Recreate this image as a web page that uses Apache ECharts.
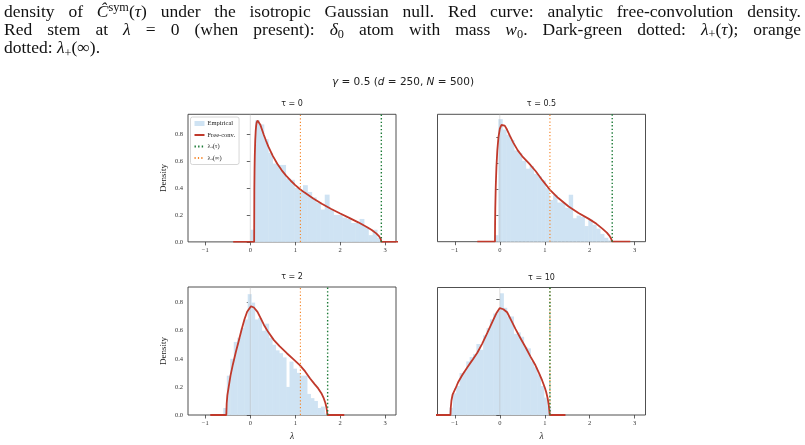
<!DOCTYPE html>
<html><head><meta charset="utf-8">
<script src="https://cdn.jsdelivr.net/npm/echarts@6/dist/echarts.min.js"></script>
<style>
html,body{margin:0;padding:0;background:#fff;width:805px;height:445px;overflow:hidden;}
#chart{position:absolute;left:0;top:0;width:805px;height:445px;}
#cap{position:absolute;left:4px;top:1.5px;width:797px;font-family:'Liberation Serif','Times New Roman',serif;font-size:17.5px;line-height:18.3px;color:#111;z-index:2;}
#cap .j{text-align:justify;text-align-last:justify;}
#cap sub,#cap sup{font-size:70%;line-height:0;position:relative;vertical-align:baseline;}
#cap sub{top:0.28em;}
#cap sup{top:-0.45em;}
</style>
</head><body>
<div id="chart"></div>
<div id="cap">
<div class="j">density of <i>Ĉ</i><sup>sym</sup>(<i>τ</i>) under the isotropic Gaussian null. Red curve: analytic free-convolution density.</div>
<div class="j">Red stem at <i>λ</i> = 0 (when present): <i>δ</i><sub>0</sub> atom with mass <i>w</i><sub>0</sub>. Dark-green dotted: <i>λ</i><sub>+</sub>(<i>τ</i>); orange</div>
<div>dotted: <i>λ</i><sub>+</sub>(∞).</div>
</div>
<script>
// ---------------- data ----------------
const suptitle = 'γ = 0.5 (d = 250, N = 500)';
const panelTitles = ['τ = 0', 'τ = 0.5', 'τ = 2', 'τ = 10'];
const xTicks = [-1, 0, 1, 2, 3];
const yTicksMain = [0, 0.2, 0.4, 0.6, 0.8];
const yTicksFine = [0, 0.1, 0.2, 0.3, 0.4, 0.5, 0.6, 0.7, 0.8];
const xRange = [-1.385, 3.24];
const yMax = [0.945, 0.977, 0.911, 0.88];
const lamPlusTau = [2.914, 2.50, 1.72, 1.115];
const lamPlusInf = 1.115;
const legendNames = ['Empirical', 'Free-conv.', 'λ₊(τ)', 'λ₊(∞)'];

// histogram bins (start, width, heights)
const histTau0Start = 0.01, histTau0Width = 0.0968;
const histTau0 = [0.09,0.90,0.87,0.76,0.66,0.58,0.57,0.57,0.47,0.46,0.40,0.38,0.42,0.37,0.33,0.29,0.24,0.35,0.24,0.20,0.20,0.18,0.17,0.14,0.14,0.17,0.11,0.05,0.09,0.03];
const histTau05Start = -0.12, histTau05Width = 0.087;
const histTau05 = [0.05,0.94,0.86,0.82,0.78,0.70,0.68,0.62,0.56,0.58,0.52,0.50,0.47,0.41,0.32,0.36,0.30,0.30,0.26,0.36,0.18,0.20,0.19,0.12,0.17,0.13,0.10,0.06,0.03,0.01];
const histTau2Start = -0.6, histTau2Width = 0.0775;
const histTau2 = [0.05,0.28,0.40,0.52,0.55,0.62,0.68,0.86,0.80,0.68,0.69,0.60,0.65,0.55,0.50,0.46,0.44,0.41,0.20,0.38,0.33,0.30,0.28,0.28,0.15,0.12,0.10,0.05,0.06,0.01];
const histTau10Start = -1.12, histTau10Width = 0.075;
const histTau10 = [0.05,0.15,0.20,0.29,0.30,0.37,0.40,0.42,0.49,0.45,0.55,0.60,0.66,0.70,0.72,0.84,0.74,0.68,0.68,0.56,0.57,0.54,0.47,0.46,0.37,0.33,0.28,0.20,0.12,0.06];

// analytic curves [lambda, density]
const curveTau0 = [[-0.38,0],[0.086,0],[0.09,0.385],[0.095,0.54],[0.10,0.636],[0.11,0.754],[0.12,0.82],[0.13,0.859],[0.14,0.882],[0.15,0.894],[0.16,0.899],[0.17,0.899],[0.18,0.897],[0.2,0.886],[0.22,0.87],[0.25,0.842],[0.3,0.794],[0.35,0.749],[0.4,0.707],[0.5,0.637],[0.6,0.579],[0.7,0.53],[0.8,0.489],[0.9,0.453],[1.0,0.421],[1.1,0.392],[1.2,0.367],[1.4,0.321],[1.6,0.281],[1.8,0.244],[2.0,0.21],[2.2,0.178],[2.4,0.145],[2.6,0.109],[2.7,0.088],[2.8,0.063],[2.86,0.043],[2.9,0.022],[2.914,0],[3.33,0]];
const curveTau05 = [[-0.5,0],[-0.107,0],[-0.105,0.12],[-0.1,0.26],[-0.09,0.42],[-0.075,0.57],[-0.055,0.7],[-0.03,0.8],[0,0.865],[0.035,0.895],[0.07,0.9],[0.11,0.89],[0.16,0.86],[0.22,0.815],[0.3,0.76],[0.4,0.70],[0.5,0.655],[0.65,0.6],[0.8,0.54],[0.95,0.47],[1.11,0.40],[1.3,0.335],[1.53,0.27],[1.75,0.22],[1.98,0.175],[2.15,0.137],[2.28,0.10],[2.38,0.07],[2.44,0.045],[2.48,0.02],[2.50,0],[2.9,0]];
const curveTau2 = [[-0.89,0],[-0.533,0],[-0.525,0.08],[-0.51,0.14],[-0.48,0.2],[-0.44,0.28],[-0.387,0.36],[-0.32,0.45],[-0.263,0.52],[-0.2,0.6],[-0.131,0.68],[-0.07,0.735],[0.015,0.774],[0.08,0.765],[0.16,0.734],[0.23,0.69],[0.307,0.639],[0.4,0.59],[0.526,0.533],[0.65,0.49],[0.818,0.438],[0.95,0.4],[1.1,0.355],[1.22,0.31],[1.33,0.26],[1.43,0.22],[1.51,0.189],[1.58,0.155],[1.635,0.118],[1.67,0.085],[1.69,0.059],[1.705,0.03],[1.715,0],[2.09,0]];
const curveTau10 = [[-1.435,0],[-1.096,0],[-1.09,0.05],[-1.075,0.1],[-1.05,0.14],[-0.985,0.183],[-0.92,0.23],[-0.837,0.274],[-0.72,0.33],[-0.615,0.377],[-0.5,0.43],[-0.393,0.491],[-0.28,0.565],[-0.17,0.64],[-0.08,0.70],[0,0.738],[0.08,0.73],[0.163,0.709],[0.26,0.65],[0.348,0.594],[0.46,0.53],[0.57,0.469],[0.68,0.405],[0.793,0.343],[0.87,0.29],[0.94,0.24],[1.0,0.19],[1.03,0.16],[1.065,0.115],[1.089,0.069],[1.10,0.035],[1.11,0],[1.46,0]];

// ---------------- layout / style ----------------
const grids = [
  {left:188, top:114.3, width:208, height:127.6},
  {left:437.5, top:114.3, width:208, height:127.4},
  {left:188, top:287, width:208, height:128},
  {left:437.5, top:287.5, width:208, height:127.5}
];
const HIST = '#cfe3f3', RED = '#c0392b', GREEN = '#1b7a36', ORANGE = '#f5862a', SPINE = '#3c3c3c';
const SERIF = "'Liberation Serif','Times New Roman',serif";
const SANS = "'DejaVu Sans',sans-serif";

const hists = [[histTau0Start,histTau0Width,histTau0],[histTau05Start,histTau05Width,histTau05],[histTau2Start,histTau2Width,histTau2],[histTau10Start,histTau10Width,histTau10]];
const curves = [curveTau0, curveTau05, curveTau2, curveTau10];

const xAxes = [], yAxes = [], series = [], graphics = [];
for (let i = 0; i < 4; i++) {
  const bottomRow = i >= 2, leftCol = i % 2 === 0;
  xAxes.push({type:'value', gridIndex:i, min:xRange[0], max:xRange[1],
    axisLine:{show:false}, splitLine:{show:false},
    axisTick:{show:true, customValues:xTicks, length:3.5, lineStyle:{color:SPINE, width:0.8}},
    axisLabel:{customValues:xTicks, formatter:v=>String(v).replace('-', '\u2212'), fontFamily:SERIF, fontSize:6.5, color:'#333', margin:5},
    name: bottomRow ? 'λ' : '', nameLocation:'middle', nameGap:16.5,
    nameTextStyle:{fontFamily:SERIF, fontStyle:'italic', fontSize:9.5, color:'#222'}});
  const yt = i === 3 ? yTicksFine : yTicksMain;
  yAxes.push({type:'value', gridIndex:i, min:0, max:yMax[i],
    axisLine:{show:false}, splitLine:{show:false},
    axisTick:{show:true, customValues:yt, length:3.5, lineStyle:{color:SPINE, width:0.8}},
    axisLabel:{show:leftCol, customValues:yt, formatter:v=>v.toFixed(1), fontFamily:SERIF, fontSize:6.5, color:'#333', margin:5},
    name: leftCol ? 'Density' : '', nameLocation:'middle', nameGap:19.5,
    nameTextStyle:{fontFamily:SERIF, fontSize:9, color:'#222'}});
  const [hs, hw, hh] = hists[i];
  series.push({type:'custom', name:'Empirical', xAxisIndex:i, yAxisIndex:i, z:1, silent:true,
    itemStyle:{color:HIST},
    data: hh.map((h,k)=>[hs + k*hw, hs + (k+1)*hw, h]),
    encode:{x:[0,1], y:2},
    renderItem:(params, api)=>{
      const p0 = api.coord([api.value(0), api.value(2)]);
      const p1 = api.coord([api.value(1), 0]);
      return {type:'rect', shape:{x:p0[0], y:p0[1], width:p1[0]-p0[0]+0.5, height:p1[1]-p0[1]}, style:{fill:HIST}};
    }});
  series.push({type:'line', name:'zero', xAxisIndex:i, yAxisIndex:i, z:2, silent:true, symbol:'none',
    data:[[0,0],[0,yMax[i]]], lineStyle:{color:'#b8b8b8', width:0.8, opacity:0.6}});
  series.push({type:'line', name:'Free-conv.', xAxisIndex:i, yAxisIndex:i, z:3, symbol:'none', showSymbol:false, clip:true,
    data:curves[i], lineStyle:{color:RED, width:1.8}, itemStyle:{color:RED}});
  series.push({type:'line', name:'λ₊(∞)', xAxisIndex:i, yAxisIndex:i, z:4, symbol:'none',
    data:[[lamPlusInf,0],[lamPlusInf,yMax[i]]], lineStyle:{color:ORANGE, width:1.2, type:[1.2,2.2]}, itemStyle:{color:ORANGE}});
  series.push({type:'line', name:'λ₊(τ)', xAxisIndex:i, yAxisIndex:i, z:5, symbol:'none',
    data:[[lamPlusTau[i],0],[lamPlusTau[i],yMax[i]]], lineStyle:{color:GREEN, width:1.4, type:[1.4,2.2]}, itemStyle:{color:GREEN}});
  const g = grids[i];
  graphics.push({type:'text', x:g.left + g.width/2, y:g.top - 10, style:{text:panelTitles[i], align:'center', verticalAlign:'middle', font:`8px ${SANS}`, fill:'#222'}});
}
graphics.push({type:'text', x:403, y:82.7, style:{
  text:'{i|γ} = 0.5 ({i|d} = 250, {i|N} = 500)', align:'center', verticalAlign:'middle',
  font:`10.5px ${SANS}`, fill:'#222',
  rich:{i:{fontStyle:'italic', fontFamily:SANS, fontSize:10.5, fill:'#222'}}}});

const chart = echarts.init(document.getElementById('chart'), null, {renderer:'canvas', width:805, height:445});
chart.setOption({
  animation:false,
  backgroundColor:'#fff',
  grid: grids.map(g=>Object.assign({show:true, borderColor:SPINE, borderWidth:0.9, containLabel:false}, g)),
  xAxis:xAxes, yAxis:yAxes, series:series, graphic:graphics,
  legend:{show:true,
    data:[{name:'Empirical', icon:'rect', itemStyle:{opacity:1, color:HIST}}, {name:'Free-conv.'}, {name:'λ₊(τ)'}, {name:'λ₊(∞)'}],
    orient:'vertical', left:190.5, top:117, itemWidth:10, itemHeight:5, itemGap:4.5,
    padding:[3,4,3,3], borderColor:'#cccccc', borderWidth:0.8, borderRadius:2, backgroundColor:'rgba(255,255,255,0.85)',
    selectedMode:false, itemStyle:{opacity:0},
    textStyle:{fontFamily:SERIF, fontSize:6.5, color:'#222', padding:[0,0,0,-2]}}
});
</script>
</body></html>
